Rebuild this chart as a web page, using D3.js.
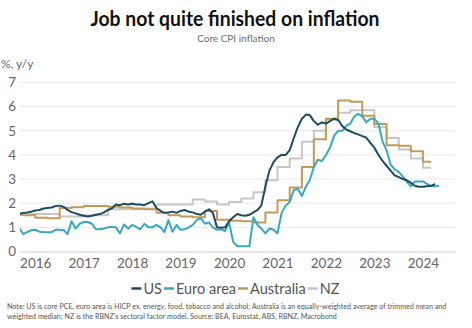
<!DOCTYPE html>
<html><head><meta charset="utf-8">
<script src="https://cdn.jsdelivr.net/npm/d3@7"></script>
<style>
html,body{margin:0;padding:0;background:#fff;}
svg{display:block;font-family:Lato,"Open Sans",sans-serif;}
</style></head><body>
<svg id="c" width="472" height="328"></svg>
<script>
// ---------- data ----------
const title = "Job not quite finished on inflation";
const subtitle = "Core CPI inflation";
const yUnit = "%, y/y";
const seriesNames = ["US", "Euro area", "Australia", "NZ"];
const seriesColors = ["#1d4c5e", "#3aa7c0", "#c39a58", "#c6c6c6"];
const yearLabels = [2016, 2017, 2018, 2019, 2020, 2021, 2022, 2023, 2024];
const yTicks = [0, 1, 2, 3, 4, 5, 6, 7];
const monthlyStart = [2016, 2];   // first monthly observation: Mar 2016
const quarterlyStart = [2016, 0]; // first quarterly observation: Q1 2016

// US core PCE, y/y, monthly Mar 2016 - Oct 2024
const usCorePCE = [
  1.55,1.6,1.62,1.65,1.7,1.72,1.78,1.8,1.82,1.88,
  1.9,1.85,1.72,1.63,1.58,1.52,1.48,1.45,1.48,1.52,1.55,1.62,
  1.72,1.8,1.95,1.92,1.98,1.95,1.98,1.95,1.95,1.92,2.0,2.08,
  1.8,1.68,1.6,1.62,1.65,1.6,1.68,1.72,1.65,1.62,1.55,1.52,
  1.65,1.75,1.6,1.0,0.98,1.0,1.25,1.42,1.55,1.5,1.48,1.52,
  1.62,1.72,1.9,2.7,3.35,3.7,3.9,4.0,4.0,4.2,4.7,5.15,
  5.5,5.67,5.65,5.4,5.25,5.35,5.3,5.4,5.5,5.45,5.2,5.05,
  4.98,4.9,4.85,4.78,4.72,4.5,4.3,4.0,3.75,3.55,3.35,3.15,
  3.08,3.0,2.95,2.85,2.72,2.68,2.68,2.7,2.72,2.8
];
// Euro area HICP ex energy, food, alcohol & tobacco, y/y, monthly Mar 2016 - Nov 2024
const euroCoreHICP = [
  1.0,0.72,0.8,0.88,0.9,0.82,0.8,0.8,0.8,0.9,
  0.9,0.88,0.72,1.25,0.95,1.15,1.22,1.22,1.15,0.92,0.92,0.95,
  1.0,1.02,1.0,0.75,1.12,0.95,1.1,1.02,0.92,1.15,1.0,1.0,
  1.1,1.0,0.8,1.3,0.82,1.1,0.9,0.92,1.0,1.1,1.3,1.38,
  1.15,1.2,1.0,0.9,0.92,0.85,1.2,0.4,0.22,0.22,0.22,0.22,
  1.42,1.1,0.95,0.75,0.95,0.9,0.75,1.6,1.9,2.05,2.55,2.6,
  2.3,2.7,2.95,3.5,3.8,3.75,4.0,4.3,4.8,5.0,5.0,5.2,
  5.3,5.6,5.7,5.6,5.35,5.5,5.5,5.3,4.55,4.2,3.6,3.4,
  3.3,3.1,2.9,2.7,2.9,2.9,2.9,2.8,2.7,2.7,2.72
];
// Australia, avg of trimmed mean & weighted median, y/y, quarterly Q1 2016 - Q3 2024
const ausCore = [
  1.52,1.5,1.4,1.38, 1.8,1.83,1.88,1.88, 1.85,1.82,1.78,1.75,
  1.6,1.5,1.45,1.42, 1.68,1.32,1.27,1.25, 1.2,1.62,2.12,2.65,
  3.5,4.65,5.5,6.25, 6.2,5.62,5.28,4.4, 4.38,4.15,3.72
];
// NZ, RBNZ sectoral factor model, y/y, quarterly Q1 2016 - Q3 2024
const nzCore = [
  1.58,1.55,1.55,1.55, 1.45,1.45,1.5,1.5, 1.75,1.75,1.75,1.78,
  1.95,1.95,1.95,2.15, 2.07,1.95,2.05,2.2, 2.45,2.95,3.5,3.85,
  4.55,5.0,5.47,5.75, 5.85,5.85,5.15,4.7, 4.22,3.85,3.47
];
const notes = [
  "Note: US is core PCE, euro area is HICP ex. energy, food, tobacco and alcohol; Australia is an equally-weighted average of trimmed mean and",
  "weighted median; NZ is the RBNZ's sectoral factor model.  Source: BEA, Eurostat, ABS, RBNZ, Macrobond"
];

// ---------- build ----------
const monthly = vals => vals.map((v, i) => ({date: new Date(monthlyStart[0], monthlyStart[1] + i, 1), v}));
const quarterly = vals => {
  const pts = vals.map((v, i) => ({date: new Date(quarterlyStart[0], quarterlyStart[1] + 3 * i, 1), v}));
  const last = pts[pts.length - 1];
  pts.push({date: new Date(last.date.getFullYear(), last.date.getMonth() + 2, 1), v: last.v});
  return pts;
};
const series = [
  {name: seriesNames[0], color: seriesColors[0], data: monthly(usCorePCE), curve: d3.curveLinear},
  {name: seriesNames[1], color: seriesColors[1], data: monthly(euroCoreHICP), curve: d3.curveLinear},
  {name: seriesNames[2], color: seriesColors[2], data: quarterly(ausCore), curve: d3.curveStepAfter},
  {name: seriesNames[3], color: seriesColors[3], data: quarterly(nzCore), curve: d3.curveStepAfter}
];

const svg = d3.select("#c");
const L = 20, R = 455, T = 82.5, B = 251.5;
const x = d3.scaleTime().domain([new Date(2016, 2, 8), new Date(2025, 1, 28)]).range([L, R]);
const y = d3.scaleLinear().domain([0, 7]).range([B, T]);

function fit(sel, target) {
  const w = sel.node().getComputedTextLength();
  if (Math.abs(w - target) / target > 0.02) {
    sel.attr("textLength", target).attr("lengthAdjust", "spacingAndGlyphs");
  }
}

// title
const t1 = svg.append("text").attr("x", 235).attr("y", 26).attr("text-anchor", "middle")
  .attr("font-size", 20).attr("font-weight", 700).attr("fill", "#111").text(title);
fit(t1, 289);
const t2 = svg.append("text").attr("x", 236).attr("y", 42.3).attr("text-anchor", "middle")
  .attr("font-size", 10).attr("fill", "#6e6e6e").text(subtitle);
fit(t2, 79);
svg.append("text").attr("x", 1).attr("y", 68).attr("font-size", 12).attr("fill", "#666").text(yUnit);

// grid
svg.append("g").selectAll("line").data(yTicks.filter(d => d > 0)).join("line")
  .attr("x1", L).attr("x2", R).attr("y1", d => y(d)).attr("y2", d => y(d))
  .attr("stroke", "#e8e8e8").attr("stroke-width", 1);

// axes
const xa = svg.append("g").attr("transform", `translate(0,${B})`)
  .call(d3.axisBottom(x).tickValues(yearLabels.map(yr => new Date(yr, 6, 1)))
    .tickFormat(d => d.getFullYear()).tickSize(0).tickSizeOuter(0).tickPadding(7));
xa.select(".domain").attr("stroke", "#cfcfcf");
xa.selectAll("text").attr("font-size", 13.5).attr("fill", "#666").attr("font-family", "Lato");

const ya = svg.append("g").attr("transform", `translate(${L},0)`)
  .call(d3.axisLeft(y).tickValues(yTicks).tickFormat(d3.format("d")).tickSize(0).tickPadding(4));
ya.select(".domain").remove();
ya.selectAll("text").attr("font-size", 13.5).attr("fill", "#666").attr("font-family", "Lato");

// lines
svg.append("clipPath").attr("id", "clip").append("rect")
  .attr("x", L).attr("y", 0).attr("width", R - L).attr("height", B + 10);
const gl = svg.append("g").attr("clip-path", "url(#clip)");
series.slice().reverse().forEach(s => {
  gl.append("path").datum(s.data)
    .attr("fill", "none").attr("stroke", s.color).attr("stroke-width", 2)
    .attr("stroke-linejoin", "round")
    .attr("d", d3.line().curve(s.curve).x(d => x(d.date)).y(d => y(d.v)));
});

// legend
const lg = svg.append("g");
let lx = 0;
series.forEach(s => {
  lg.append("line").attr("x1", lx).attr("x2", lx + 10).attr("y1", 288.5).attr("y2", 288.5)
    .attr("stroke", s.color).attr("stroke-width", 2.5);
  const tx = lg.append("text").attr("x", lx + 12).attr("y", 293.5).attr("font-size", 14.5)
    .attr("fill", "#555").text(s.name);
  lx += 12 + tx.node().getComputedTextLength() + 2;
});
lg.attr("transform", `translate(${235.5 - (lx - 2) / 2},0)`);

// notes
const n1 = svg.append("text").attr("x", 7).attr("y", 309).attr("font-size", 7).attr("fill", "#555").text(notes[0]);
const w1 = n1.node().getComputedTextLength();
const fs = 7 * 440 / w1;
n1.attr("font-size", fs);
svg.append("text").attr("x", 7).attr("y", 319).attr("font-size", fs).attr("fill", "#555").text(notes[1]);
</script>
</body></html>
